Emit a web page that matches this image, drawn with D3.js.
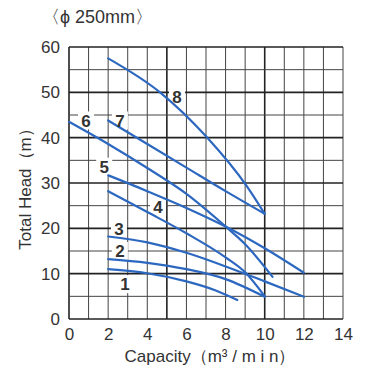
<!DOCTYPE html>
<html>
<head>
<meta charset="utf-8">
<script src="https://cdn.jsdelivr.net/npm/d3@7"></script>
<style>
  html, body { margin: 0; padding: 0; background: #fff; }
  svg { display: block; }
  text { font-family: "Liberation Sans", Arial, sans-serif; fill: #333; }
</style>
</head>
<body>
<svg id="chart" width="366" height="373"></svg>
<script>
// ---- data ----
const title = "〈ϕ 250mm〉";
const xTitle = "Capacity（m³ / m i n）";
const yTitle = "Total Head（m）";
const xTicks = [0, 2, 4, 6, 8, 10, 12, 14];
const yTicks = [0, 10, 20, 30, 40, 50, 60];
const curveNames = ["1", "2", "3", "4", "5", "6", "7", "8"];
const curve1 = [[2, 11.0], [4, 10.1], [6, 8.3], [7.5, 6.3], [8.6, 4.2]];
const curve2 = [[2, 13.2], [4, 12.4], [6, 11.0], [8, 8.8], [10, 4.9]];
const curve3 = [[2, 18.2], [4, 16.9], [6, 14.6], [8, 11.6], [10, 8.3], [12, 4.9]];
const curve4 = [[2, 28.2], [4, 23.6], [6, 18.9], [8, 13.6], [9, 10.3], [10, 5.0]];
const curve5 = [[2, 31.7], [4, 28.2], [6, 24.5], [8, 20.4], [10, 15.6], [12, 10.2]];
const curve6 = [[0, 43.5], [2, 38.6], [4, 33.3], [6, 27.6], [8, 20.4], [9, 16.5], [10.4, 9.3]];
const curve7 = [[2, 43.8], [4, 38.6], [6, 33.4], [8, 28.2], [10, 23.2]];
const curve8 = [[2, 57.5], [4.65, 50], [7, 40.3], [9.1, 29.2], [10, 23.2]];
const curves = [curve1, curve2, curve3, curve4, curve5, curve6, curve7, curve8];
// label anchor positions (data units)
const labelPos = [[2.86, 7.7], [2.6, 15.0], [2.55, 19.9], [4.55, 24.8], [1.8, 33.6], [0.87, 43.8], [2.6, 43.8], [5.52, 49.1]];

// ---- layout ----
const svg = d3.select("#chart");
const L = 69, R = 343, T = 47, B = 319;
const x = d3.scaleLinear().domain([0, 14]).range([L, R]);
const y = d3.scaleLinear().domain([0, 60]).range([B, T]);

// grid
const g = svg.append("g");
d3.range(0, 15, 1).forEach(v => {
  const major = v % 5 === 0;
  g.append("line").attr("x1", x(v)).attr("x2", x(v)).attr("y1", y(0)).attr("y2", y(60))
    .attr("stroke", major ? "#222" : "#444").attr("stroke-width", major ? 1.6 : 1);
});
d3.range(0, 61, 5).forEach(v => {
  const major = v % 10 === 0;
  g.append("line").attr("x1", x(0)).attr("x2", x(14)).attr("y1", y(v)).attr("y2", y(v))
    .attr("stroke", major ? "#222" : "#444").attr("stroke-width", major ? 1.6 : 1);
});

// axes (tick labels only)
const xAxis = d3.axisBottom(x).tickValues(xTicks).tickSize(0).tickPadding(9);
const yAxis = d3.axisLeft(y).tickValues(yTicks).tickSize(0).tickPadding(9);
const gx = svg.append("g").attr("transform", `translate(0,${B})`).call(xAxis);
const gy = svg.append("g").attr("transform", `translate(${L},0)`).call(yAxis);
[gx, gy].forEach(a => {
  a.select(".domain").remove();
  a.selectAll("text").style("font-size", "17px").style("font-family", '"Liberation Sans", Arial, sans-serif').attr("fill", "#333");
});

// white backing for curve labels (interrupts grid, not curves)
curveNames.forEach((n, i) => {
  const [lx, ly] = labelPos[i];
  svg.append("rect").attr("x", x(lx) - 8).attr("y", y(ly) - 9).attr("width", 16).attr("height", 18).attr("fill", "#fff");
});

// curves
const line = d3.line().x(d => x(d[0])).y(d => y(d[1])).curve(d3.curveMonotoneX);
curves.forEach(c => {
  svg.append("path").datum(c).attr("d", line)
    .attr("fill", "none").attr("stroke", "#2d68c0").attr("stroke-width", 2.2)
    .attr("stroke-linecap", "round");
});

// curve labels
curveNames.forEach((n, i) => {
  const [lx, ly] = labelPos[i];
  svg.append("text").attr("x", x(lx)).attr("y", y(ly)).attr("text-anchor", "middle").attr("dy", "0.36em")
    .style("font-size", "17px").style("font-weight", "bold").attr("fill", "#222").text(n);
});

// titles
svg.append("text").attr("x", 42).attr("y", 23).style("font-size", "18px").text(title);
svg.append("text").attr("x", (L + R) / 2 + 4).attr("y", 362).attr("text-anchor", "middle").style("font-size", "17px").text(xTitle);
svg.append("text").attr("transform", `translate(31,${(T + B) / 2 + 2}) rotate(-90)`).attr("text-anchor", "middle").style("font-size", "17px").text(yTitle);
</script>
</body>
</html>
